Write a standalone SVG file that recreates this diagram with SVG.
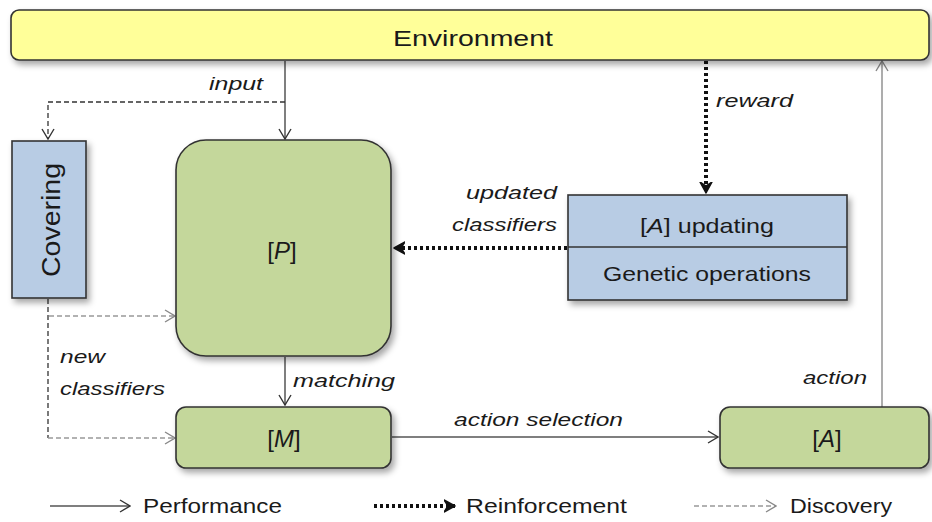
<svg xmlns="http://www.w3.org/2000/svg" width="932" height="522" viewBox="0 0 932 522">
<style>
text{font-family:"Liberation Sans","Open Sans",sans-serif;fill:#1a1a1a}
.t{font-size:21px}
.big{font-size:24px}
.lb{font-size:19px;font-style:italic}
.box{stroke:#333;stroke-width:1.6}
.g{fill:#c4d79b}
.b{fill:#b8cce4}
.perf{fill:none;stroke:#555;stroke-width:1.5}
.reinf{fill:none;stroke:#111;stroke-width:4;stroke-dasharray:3 3}
.disc{fill:none;stroke:#999;stroke-width:1.6;stroke-dasharray:5 3}
.discd{fill:none;stroke:#333;stroke-width:1.3;stroke-dasharray:5 3}
</style>
<defs>
<filter id="sh" x="-10%" y="-10%" width="130%" height="140%">
<feDropShadow dx="3" dy="4" stdDeviation="3" flood-color="#000" flood-opacity="0.35"/>
</filter>
<marker id="ap" viewBox="0 0 12 14" refX="11" refY="7" markerWidth="12" markerHeight="14" markerUnits="userSpaceOnUse" orient="auto">
<path d="M1,1 L11,7 L1,13" fill="none" stroke="#333" stroke-width="1.4"/>
</marker>
<marker id="ag" viewBox="0 0 12 14" refX="11" refY="7" markerWidth="12" markerHeight="14" markerUnits="userSpaceOnUse" orient="auto">
<path d="M1,1 L11,7 L1,13" fill="none" stroke="#888" stroke-width="1.4"/>
</marker>
<marker id="ar" viewBox="0 0 12 14" refX="11" refY="7" markerWidth="12" markerHeight="14" markerUnits="userSpaceOnUse" orient="auto">
<path d="M0,1 L11,7 L0,13 L4,7 Z" fill="#111" stroke="#111" stroke-width="1.5" stroke-linejoin="round"/>
</marker>
</defs>
<rect width="932" height="522" fill="#fff"/>

<g id="connectors">
<line class="perf" x1="285" y1="61" x2="285" y2="139" marker-end="url(#ap)"/>
<polyline class="discd" points="285,102 48,102 48,139" marker-end="url(#ap)"/>
<line class="reinf" x1="706" y1="61" x2="706" y2="193" marker-end="url(#ar)"/>
<line class="reinf" x1="567" y1="248" x2="394" y2="248" marker-end="url(#ar)"/>
<line class="discd" x1="48" y1="299" x2="48" y2="438"/>
<line class="disc" x1="49" y1="316" x2="175" y2="316" marker-end="url(#ag)"/>
<line class="disc" x1="48" y1="438" x2="175" y2="438" marker-end="url(#ag)"/>
<line class="perf" x1="285" y1="357" x2="285" y2="405" marker-end="url(#ap)"/>
<line class="perf" x1="392" y1="437" x2="718" y2="437" marker-end="url(#ap)"/>
<line x1="882" y1="407" x2="882" y2="61" stroke="#999" stroke-width="1.6" marker-end="url(#ag)"/>
</g>

<g id="environment">
<rect x="11" y="10" width="918" height="50" rx="8" fill="#ffff99" class="box" filter="url(#sh)"/>
<text x="473" y="46" text-anchor="middle" font-size="22" textLength="160" lengthAdjust="spacingAndGlyphs">Environment</text>
</g>

<g id="covering">
<rect x="12" y="141" width="74" height="157" fill="#b8cce4" class="box" filter="url(#sh)"/>
<text transform="translate(60,220) rotate(-90)" text-anchor="middle" font-size="26" textLength="114" lengthAdjust="spacingAndGlyphs">Covering</text>
</g>

<g id="P">
<rect x="176" y="140" width="215" height="216" rx="30" class="box g" filter="url(#sh)"/>
<text x="282" y="259" text-anchor="middle" class="big">[<tspan font-style="italic">P</tspan>]</text>
</g>

<g id="updating">
<rect x="568" y="195" width="279" height="105" class="box b" filter="url(#sh)"/>
<line x1="568" y1="247" x2="847" y2="247" stroke="#333" stroke-width="1.6"/>
<text x="707" y="233" text-anchor="middle" class="t" textLength="134" lengthAdjust="spacingAndGlyphs">[<tspan font-style="italic">A</tspan>] updating</text>
<text x="707" y="281" text-anchor="middle" class="t" textLength="208" lengthAdjust="spacingAndGlyphs">Genetic operations</text>
</g>

<g id="M">
<rect x="176" y="407" width="215" height="61" rx="10" class="box g" filter="url(#sh)"/>
<text x="284" y="447" text-anchor="middle" class="big">[<tspan font-style="italic">M</tspan>]</text>
</g>

<g id="A">
<rect x="720" y="407" width="209" height="61" rx="10" class="box g" filter="url(#sh)"/>
<text x="827" y="447" text-anchor="middle" class="big">[<tspan font-style="italic">A</tspan>]</text>
</g>

<g id="labels">
<text x="263" y="90" text-anchor="end" class="lb" textLength="54" lengthAdjust="spacingAndGlyphs">input</text>
<text x="716" y="107" class="lb" textLength="77" lengthAdjust="spacingAndGlyphs">reward</text>
<text x="557" y="199" text-anchor="end" class="lb" textLength="91" lengthAdjust="spacingAndGlyphs">updated</text>
<text x="557" y="231" text-anchor="end" class="lb" textLength="105" lengthAdjust="spacingAndGlyphs">classifiers</text>
<text x="60" y="363" class="lb" textLength="45" lengthAdjust="spacingAndGlyphs">new</text>
<text x="60" y="395" class="lb" textLength="105" lengthAdjust="spacingAndGlyphs">classifiers</text>
<text x="293" y="387" class="lb" textLength="102" lengthAdjust="spacingAndGlyphs">matching</text>
<text x="454" y="426" class="lb" textLength="169" lengthAdjust="spacingAndGlyphs">action selection</text>
<text x="867" y="384" text-anchor="end" class="lb" textLength="64" lengthAdjust="spacingAndGlyphs">action</text>
</g>

<g id="legend">
<line class="perf" x1="50" y1="506" x2="130" y2="506" marker-end="url(#ap)"/>
<text x="143" y="513" class="t" textLength="139" lengthAdjust="spacingAndGlyphs">Performance</text>
<line class="reinf" x1="374" y1="506" x2="455" y2="506" marker-end="url(#ar)"/>
<text x="466" y="513" class="t" textLength="161" lengthAdjust="spacingAndGlyphs">Reinforcement</text>
<line class="disc" x1="694" y1="506" x2="776" y2="506" marker-end="url(#ag)"/>
<text x="790" y="513" class="t" textLength="102" lengthAdjust="spacingAndGlyphs">Discovery</text>
</g>
</svg>
